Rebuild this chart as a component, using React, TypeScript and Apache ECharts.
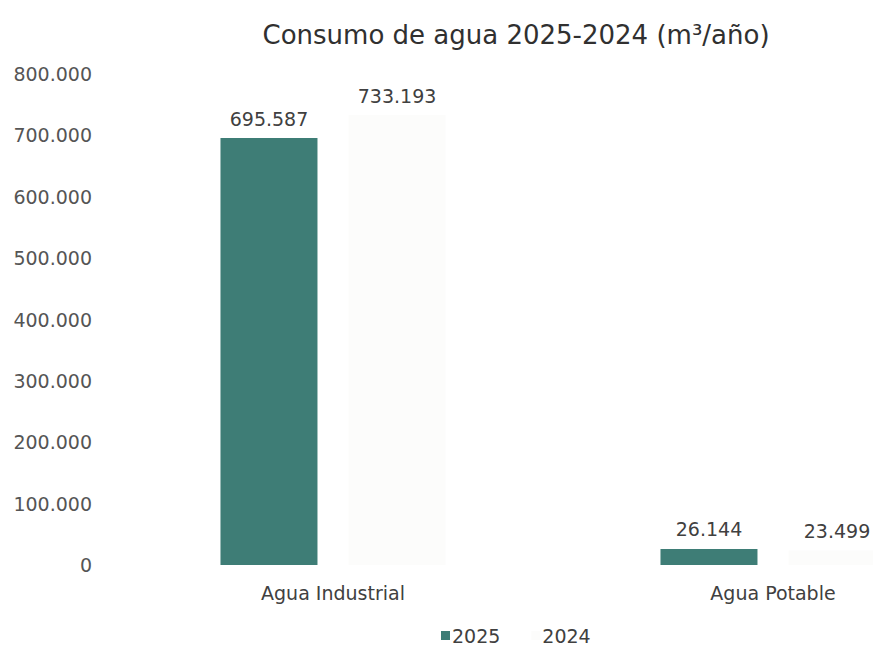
import React, { useEffect, useRef } from "react";
import * as echarts from "echarts";

const categories = ["Agua Industrial", "Agua Potable"];
const values2025 = [695587, 26144];
const values2024 = [733193, 23499];
const seriesNames = ["2025", "2024"];

const fmt = (v: number) => {
  const s = Math.round(v).toString();
  return s.replace(/\B(?=(\d{3})+(?!\d))/g, ".");
};

export default function App() {
  const ref = useRef<HTMLDivElement>(null);
  useEffect(() => {
    if (!ref.current) return;
    const chart = echarts.init(ref.current, undefined, { renderer: "svg" });
    const font = "DejaVu Sans";
    chart.setOption({
      animation: false,
      backgroundColor: "#ffffff",
      textStyle: { fontFamily: font },
      title: {
        text: "Consumo de agua 2025-2024 (m³/año)",
        left: 511,
        textAlign: "center",
        top: 17,
        textStyle: { fontFamily: font, fontSize: 26, fontWeight: "normal", color: "#303030" },
      },
      legend: {
        data: seriesNames,
        left: 436,
        top: 621,
        itemWidth: 9,
        itemHeight: 9,
        itemGap: 31,
        icon: "rect",
        textStyle: { fontFamily: font, fontSize: 19, color: "#404040", padding: [0, 0, 0, -3] },
      },
      grid: { left: 113, top: 74, bottom: 81, width: 880, containLabel: false, outerBoundsMode: "none" },
      xAxis: {
        type: "category",
        data: categories,
        axisLine: { show: false },
        axisTick: { show: false },
        axisLabel: { fontFamily: font, fontSize: 19, color: "#404040", margin: 18 },
      },
      yAxis: {
        type: "value",
        min: 0,
        max: 800000,
        interval: 100000,
        splitLine: { show: false },
        axisLine: { show: false },
        axisTick: { show: false },
        axisLabel: {
          fontFamily: font,
          fontSize: 19,
          color: "#555555",
          margin: 21,
          align: "right",
          formatter: (v: number) => fmt(v),
        },
      },
      series: [
        {
          name: seriesNames[0],
          type: "bar",
          data: values2025,
          barWidth: 97,
          barGap: "32%",
          itemStyle: { color: "#3e7d76" },
          label: {
            show: true,
            position: "top",
            distance: 10,
            formatter: (p: any) => fmt(p.value),
            fontFamily: font,
            fontSize: 19,
            color: "#404040",
          },
        },
        {
          name: seriesNames[1],
          type: "bar",
          data: values2024,
          barWidth: 97,
          itemStyle: { color: "#fcfcfb" },
          label: {
            show: true,
            position: "top",
            distance: 10,
            formatter: (p: any) => fmt(p.value),
            fontFamily: font,
            fontSize: 19,
            color: "#404040",
          },
        },
      ],
    });
    return () => chart.dispose();
  }, []);
  return (
    <div
      style={{ position: "absolute", left: 0, top: 0, width: 873, height: 646, overflow: "hidden" }}
    >
      <div ref={ref} style={{ width: 1010, height: 646 }} />
    </div>
  );
}
